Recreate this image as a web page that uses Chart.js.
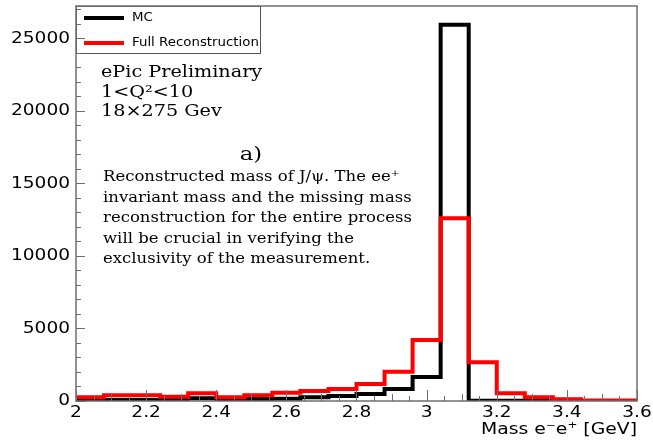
<!DOCTYPE html>
<html><head><meta charset="utf-8">
<script src="https://cdn.jsdelivr.net/npm/chart.js@4"></script>
<style>html,body{margin:0;padding:0;background:#fff}</style>
</head><body><canvas id="c" width="653" height="440"></canvas>
<script>
const binLow = [2.00,2.08,2.16,2.24,2.32,2.40,2.48,2.56,2.64,2.72,2.80,2.88,2.96,3.04,3.12,3.20,3.28,3.36,3.44,3.52];
const binLastEdge = 3.60;
const mcCounts   = [40,70,70,80,190,110,140,150,250,340,480,830,1650,25950,20,15,10,5,0,0];
const recoCounts = [250,400,400,300,530,260,400,570,690,830,1170,2020,4200,12600,2670,530,250,120,40,30];
const seriesNames = ['MC','Full Reconstruction'];
const xTickValues = [2.0,2.2,2.4,2.6,2.8,3.0,3.2,3.4,3.6];
const yTickValues = [0,5000,10000,15000,20000,25000];
const annotLines = ['ePic Preliminary','1<Q²<10','18×275 Gev'];
const panelLabel = 'a)';
const captionLines = ['Reconstructed mass of J/ψ. The ee⁺','invariant mass and the missing mass','reconstruction for the entire process','will be crucial in verifying the','exclusivity of the measurement.'];
const xTitle = 'Mass e⁻e⁺ [GeV]';

function toPoints(counts){
  const pts = binLow.map((x,i)=>({x:x,y:counts[i]}));
  pts.push({x:binLastEdge,y:counts[counts.length-1]});
  return pts;
}
function sText(ctx,t,x,y,sx,align){
  ctx.save(); ctx.translate(x,y); ctx.scale(sx,1); ctx.textAlign=align; ctx.fillText(t,0,0); ctx.restore();
}
function fmt(v){ return String(Number(v.toFixed(2))); }

const framePlugin = {
  id:'frame',
  afterDatasetsDraw(chart){
    const ctx=chart.ctx, ca=chart.chartArea, xs=chart.scales.x, ys=chart.scales.y;
    ctx.save();
    // legend
    const ds=chart.data.datasets;
    const lx=ca.left, ly=ca.top, lw=184, lh=47;
    ctx.fillStyle='#fff'; ctx.fillRect(lx,ly,lw,lh);
    ctx.strokeStyle='#555'; ctx.lineWidth=1; ctx.strokeRect(lx+0.5,ly+0.5,lw,lh);
    const order=[1,0];
    ctx.font='11.5px "DejaVu Sans"'; ctx.textBaseline='middle';
    order.forEach((di,k)=>{
      const yy = ly+12+k*25;
      ctx.strokeStyle=ds[di].borderColor; ctx.lineWidth=4;
      ctx.beginPath(); ctx.moveTo(lx+8,yy); ctx.lineTo(lx+48,yy); ctx.stroke();
      ctx.fillStyle='#000'; sText(ctx, ds[di].label, lx+56, yy, 1.16, 'left');
    });
    // frame
    ctx.strokeStyle='#6e6e6e'; ctx.lineWidth=1.5;
    ctx.strokeRect(ca.left,ca.top,ca.right-ca.left,ca.bottom-ca.top);
    ctx.lineWidth=1;
    for(let v=0; v<=ys.max; v+=1000){
      const py=Math.round(ys.getPixelForValue(v))+0.5;
      const len = (v%5000===0)?9:5;
      ctx.beginPath(); ctx.moveTo(ca.left,py); ctx.lineTo(ca.left+len,py); ctx.stroke();
    }
    for(let k=0;k<=32;k++){
      const v=xs.min+k*0.05;
      const px=Math.round(xs.getPixelForValue(v))+0.5;
      const len=(k%4===0)?11:(k%2===0?7:5);
      ctx.beginPath(); ctx.moveTo(px,ca.bottom); ctx.lineTo(px,ca.bottom-len); ctx.stroke();
    }
    // tick labels from the library's scales
    ctx.fillStyle='#000';
    ctx.font='16px "DejaVu Sans"';
    ctx.textBaseline='middle';
    ys.ticks.forEach(t=>{ sText(ctx, fmt(t.value), ca.left-6, ys.getPixelForValue(t.value), 1.16, 'right'); });
    ctx.textBaseline='top';
    xs.ticks.forEach(t=>{ sText(ctx, fmt(t.value), xs.getPixelForValue(t.value), ca.bottom+4, 1.16, 'center'); });
    ctx.textBaseline='alphabetic';
    ctx.font='16.5px "DejaVu Sans"';
    sText(ctx, xTitle, ca.right, 434, 1.14, 'right');
    // annotations
    ctx.font='16px "DejaVu Serif"';
    annotLines.forEach((t,i)=>sText(ctx, t, 101, 77+i*19.5, 1.2, 'left'));
    ctx.font='19px "DejaVu Serif"';
    sText(ctx, panelLabel, 251, 160, 1.2, 'center');
    ctx.font='15px "DejaVu Serif"';
    captionLines.forEach((t,i)=>sText(ctx, t, 103, 181+i*20.5, 1.1, 'left'));
    ctx.restore();
  }
};

new Chart(document.getElementById('c'),{
  type:'line',
  data:{datasets:[
    {label:seriesNames[1], data:toPoints(recoCounts), borderColor:'#ff0000', borderWidth:4, stepped:'before', fill:false, pointRadius:0, order:0},
    {label:seriesNames[0], data:toPoints(mcCounts), borderColor:'#000000', borderWidth:4, stepped:'before', fill:false, pointRadius:0, order:1}
  ]},
  options:{
    responsive:false, animation:false,
    layout:{padding:{top:6,right:16,left:0,bottom:0}},
    plugins:{legend:{display:false},tooltip:{enabled:false}},
    elements:{line:{tension:0,borderJoinStyle:'miter',borderCapStyle:'butt'}},
    scales:{
      x:{type:'linear',min:2,max:3.6,
        grid:{display:false,drawTicks:false}, border:{display:false},
        ticks:{display:false},
        afterBuildTicks:s=>{s.ticks=xTickValues.map(v=>({value:v}));},
        afterFit:s=>{s.height=39;}},
      y:{min:0,max:27240,
        grid:{display:false,drawTicks:false}, border:{display:false},
        ticks:{display:false},
        afterBuildTicks:s=>{s.ticks=yTickValues.map(v=>({value:v}));},
        afterFit:s=>{s.width=76;}}
    }
  },
  plugins:[framePlugin]
});
</script></body></html>
